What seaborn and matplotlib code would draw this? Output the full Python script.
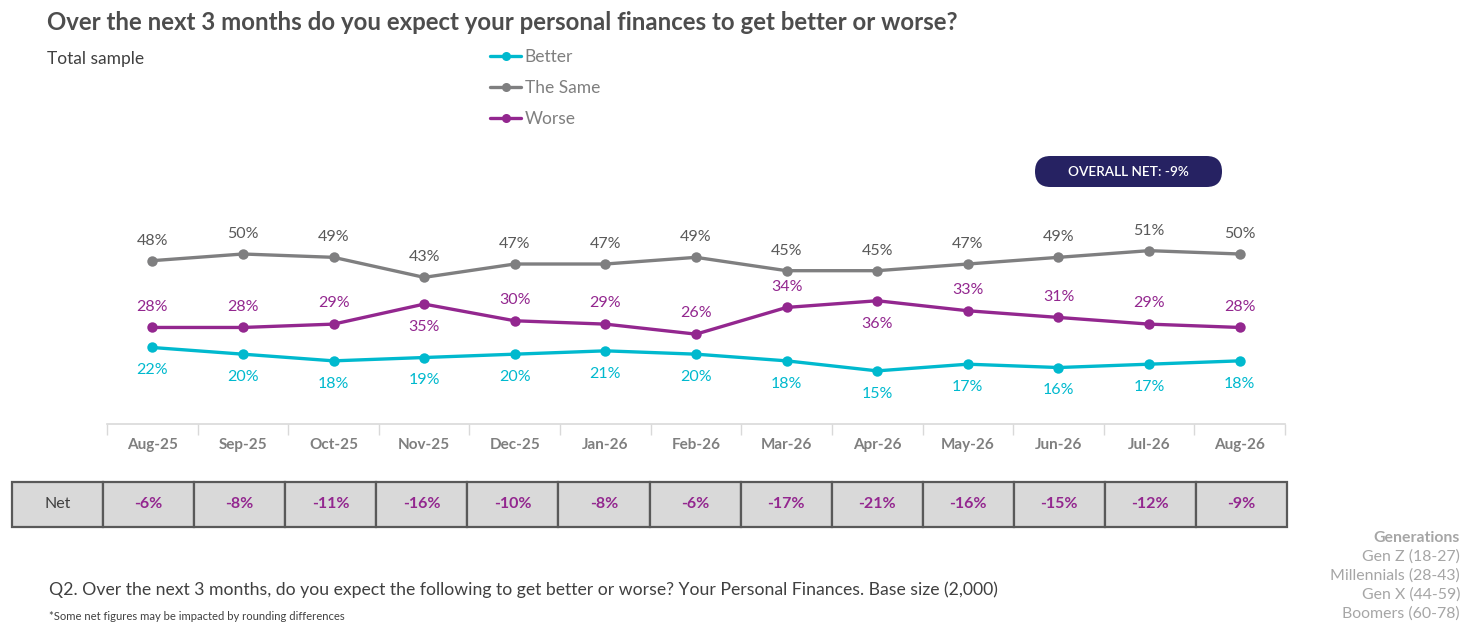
import matplotlib.pyplot as plt
import seaborn as sns
import pandas as pd
from matplotlib.patches import FancyBboxPatch, Rectangle
from matplotlib.lines import Line2D

months = ['Aug-25', 'Sep-25', 'Oct-25', 'Nov-25', 'Dec-25', 'Jan-26', 'Feb-26',
          'Mar-26', 'Apr-26', 'May-26', 'Jun-26', 'Jul-26', 'Aug-26']
better = [22, 20, 18, 19, 20, 21, 20, 18, 15, 17, 16, 17, 18]
same = [48, 50, 49, 43, 47, 47, 49, 45, 45, 47, 49, 51, 50]
worse = [28, 28, 29, 35, 30, 29, 26, 34, 36, 33, 31, 29, 28]
net = [-6, -8, -11, -16, -10, -8, -6, -17, -21, -16, -15, -12, -9]
overall_net = -9
generations = ['Gen Z (18-27)', 'Millennials (28-43)', 'Gen X (44-59)', 'Boomers (60-78)']

# where the worse labels sit (1 above, -1 below the point)
worse_pos = [1, 1, 1, -1, 1, 1, 1, 1, -1, 1, 1, 1, 1]

RENK = {'Better': '#00B9CE', 'The Same': '#7F7F80', 'Worse': '#93278F'}
ETIKET_RENK = {'Better': '#00B9CE', 'The Same': '#595959', 'Worse': '#93278F'}

df = pd.DataFrame({
    'month': months * 3,
    'x': list(range(len(months))) * 3,
    'value': better + same + worse,
    'series': ['Better'] * 13 + ['The Same'] * 13 + ['Worse'] * 13,
})

sns.set_theme(style='white')
plt.rcParams['font.family'] = ['Lato', 'DejaVu Sans']

W, H = 1476, 634
fig = plt.figure(figsize=(W / 100, H / 100), dpi=100)

# overlay in pixel coordinates for texts and the badge
bg = fig.add_axes([0, 0, 1, 1], zorder=0)
bg.set_xlim(0, W)
bg.set_ylim(H, 0)
bg.axis('off')

def px_box(x0, y0, x1, y1):
    return [x0 / W, 1 - y1 / H, (x1 - x0) / W, (y1 - y0) / H]

ax = fig.add_axes(px_box(107, 220.6, 1285, 424.3), zorder=2)
ax.patch.set_alpha(0)

sns.lineplot(data=df, x='x', y='value', hue='series', palette=RENK,
             marker='o', markersize=7.5, markeredgewidth=0, linewidth=2.4,
             ax=ax, legend=False)

ax.set_xlim(-0.5, 12.5)
ax.set_ylim(-1, 60)
ax.set_xticks(range(len(months)))
ax.set_xticklabels(months, fontsize=11, color='#7F7F7F', fontweight='bold')
ax.set_xticks([i - 0.5 for i in range(len(months) + 1)], minor=True)
ax.tick_params(axis='x', which='major', length=0, pad=10)
ax.tick_params(axis='x', which='minor', length=8, width=1, color='#D9D9D9',
               direction='out', bottom=True)
ax.set_yticks([])
ax.set_xlabel('')
ax.set_ylabel('')
for s in ['top', 'right', 'left']:
    ax.spines[s].set_visible(False)
ax.spines['bottom'].set_color('#D9D9D9')
ax.spines['bottom'].set_linewidth(1.2)

# data labels
for i in range(len(months)):
    ax.annotate(f'{same[i]}%', (i, same[i]), xytext=(0, 14.5), textcoords='offset points',
                ha='center', va='center', fontsize=11.5, color=ETIKET_RENK['The Same'])
    ax.annotate(f'{better[i]}%', (i, better[i]), xytext=(0, -16.5), textcoords='offset points',
                ha='center', va='center', fontsize=11.5, color=ETIKET_RENK['Better'])
    off = 15 if worse_pos[i] > 0 else -16.5
    ax.annotate(f'{worse[i]}%', (i, worse[i]), xytext=(0, off), textcoords='offset points',
                ha='center', va='center', fontsize=11.5, color=ETIKET_RENK['Worse'])

# legend
handles = [Line2D([], [], color=RENK[k], marker='o', markersize=6.5, linewidth=2.4,
                  markeredgewidth=0) for k in RENK]
leg = fig.legend(handles, list(RENK), loc='upper left',
                 bbox_to_anchor=(490 / W, 1 - 49 / H), frameon=False, fontsize=12.5,
                 handlelength=1.8, handletextpad=0.2, labelspacing=0.86,
                 borderaxespad=0, borderpad=0)
for t in leg.get_texts():
    t.set_color('#7F7F7F')

# Net table
tab = fig.add_axes(px_box(12, 482, 1287, 527), zorder=2)
tab.set_xlim(-1.5, 12.5)
tab.set_ylim(0, 1)
tab.axis('off')
tab.add_patch(Rectangle((-1.5, 0), 1, 1, facecolor='#D9D9D9', edgecolor='#595959',
                        linewidth=1.6, clip_on=False))
tab.text(-1, 0.5, 'Net', ha='center', va='center', fontsize=11.5, color='#404040')
for i, v in enumerate(net):
    tab.add_patch(Rectangle((i - 0.5, 0), 1, 1, facecolor='#D9D9D9', edgecolor='#595959',
                            linewidth=1.6, clip_on=False))
    tab.text(i, 0.5, f'{v}%', ha='center', va='center', fontsize=11.5,
             color='#93278F', fontweight='bold')

# badge
bg.add_patch(FancyBboxPatch((1035, 156), 187, 31,
                            boxstyle='round,pad=0,rounding_size=15.5',
                            facecolor='#262262', edgecolor='none'))
bg.text(1128.5, 172, f'OVERALL NET: {overall_net}%', ha='center', va='center',
        fontsize=9.8, color='white', fontweight='semibold')

# texts
bg.text(47, 22, 'Over the next 3 months do you expect your personal finances to get better or worse?',
        ha='left', va='center', fontsize=17.3, fontweight='bold', color='#4D4D4D')
bg.text(47, 59, 'Total sample', ha='left', va='center', fontsize=12.5, color='#404040')
bg.text(49, 590, 'Q2. Over the next 3 months, do you expect the following to get better or worse? '
        'Your Personal Finances. Base size (2,000)',
        ha='left', va='center', fontsize=12.7, color='#404040')
bg.text(49, 617, '*Some net figures may be impacted by rounding differences',
        ha='left', va='center', fontsize=8.1, color='#404040')

bg.text(1460, 538, 'Generations', ha='right', va='center', fontsize=11.4,
        fontweight='bold', color='#A6A6A6')
for k, g in enumerate(generations):
    bg.text(1460, 557 + 19 * k, g, ha='right', va='center', fontsize=11.4, color='#A6A6A6')

fig.savefig('out.png', dpi=100)
plt.close(fig)
